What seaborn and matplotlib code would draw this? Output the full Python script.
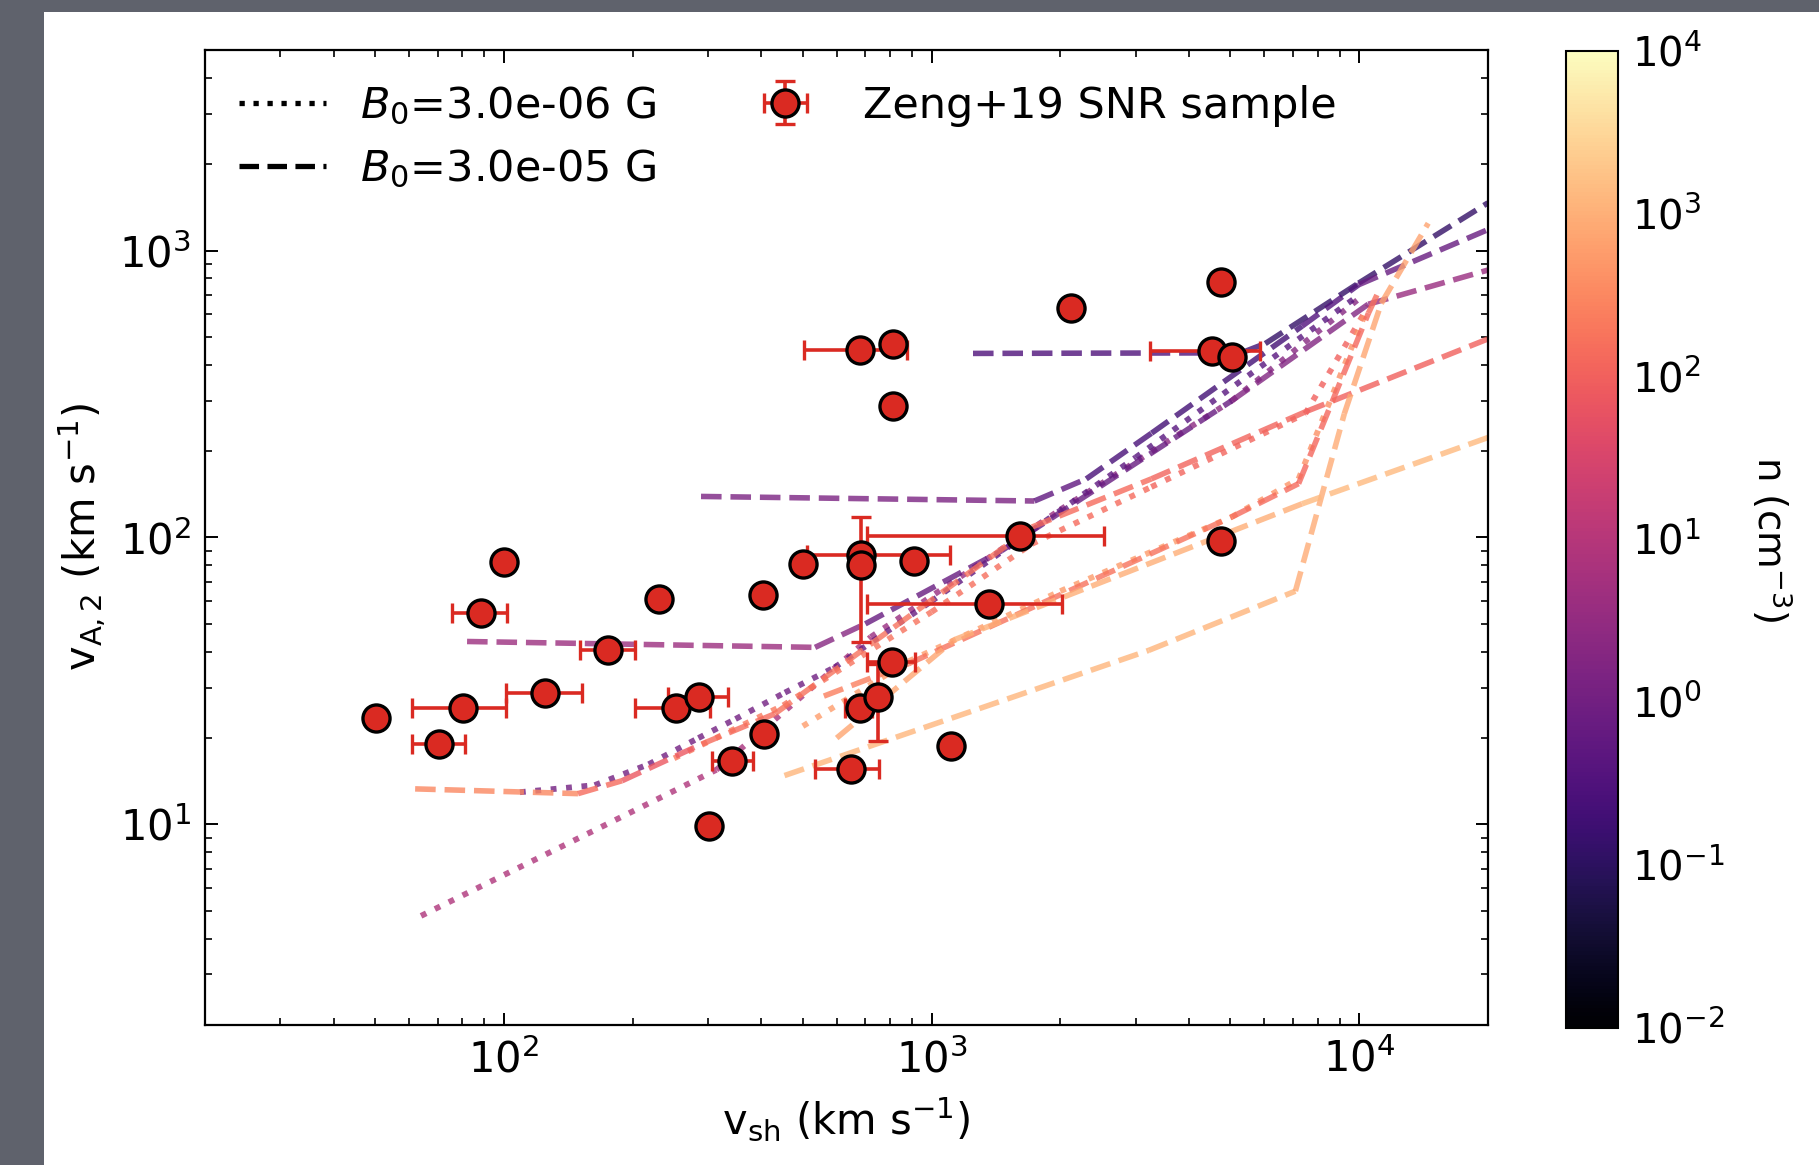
import numpy as np
import pandas as pd
import matplotlib
matplotlib.use("Agg")
import matplotlib.pyplot as plt
import seaborn as sns
from matplotlib.colors import LogNorm
from matplotlib.lines import Line2D
from matplotlib.patches import Rectangle

# ---------------- data ----------------
# Zeng+19 SNR sample
snr_vsh = [50.3, 70.5, 80.3, 88.3, 100, 125, 175, 231, 252, 286, 302, 342, 403, 405,
           501, 648, 681, 811, 811, 685, 685, 908, 681, 748, 809, 1111, 1613, 1366,
           2121, 4748, 4520, 5040, 4742]
snr_va = [23.4, 19.0, 25.4, 54.6, 82.2, 28.7, 40.5, 61, 25.4, 27.9, 9.9, 16.7, 62.8, 20.7,
          80.7, 15.6, 449, 474, 287, 87, 80, 83, 25.4, 27.9, 36.7, 18.8, 101, 58.4,
          629, 779, 447, 426, 97.2]
snr_vsh_lo = [0, 9.7, 19.5, 12.8, 0, 23.6, 24, 0, 49, 44, 0, 36, 0, 0,
              0, 114, 177, 0, 0, 174, 0, 0, 53, 0, 102, 0, 906, 659,
              0, 0, 1284, 0, 0]
snr_vsh_hi = [0, 10.5, 21, 13.6, 0, 27, 27.6, 0, 51, 49, 0, 41, 0, 0,
              0, 104, 193, 0, 0, 417, 0, 0, 43, 0, 104, 0, 916, 654,
              0, 0, 1346, 0, 0]
snr_va_lo = [0, 0, 0, 0, 0, 0, 0, 0, 0, 0, 0, 0, 0, 0,
             0, 0, 0, 0, 0, 0, 36.8, 0, 0, 8.3, 0, 0, 0, 0,
             0, 0, 0, 0, 0]
snr_va_hi = [0, 0, 0, 0, 0, 0, 0, 0, 0, 0, 0, 0, 0, 0,
             0, 0, 0, 0, 0, 0, 38, 0, 0, 8.3, 0, 0, 0, 0,
             0, 0, 0, 0, 0]

# Model curves, B0 = 3.0e-05 G (dashed): v_sh, v_A2 and density n along the curve
d1_vsh = [1250, 5300, 6030, 9970, 20000]
d1_va = [438, 440, 474, 770, 1466]
d1_n = [0.3, 0.3, 0.12, 0.12, 0.12]

d2_vsh = [289, 1740, 2300, 3270, 7350, 9970, 20000]
d2_va = [139, 134, 160, 231, 545, 760, 1183]
d2_n = [2, 1, 0.3, 0.2, 0.2, 0.5, 1]

d3_vsh = [82, 534, 700, 1459, 5040, 10500, 20000]
d3_va = [43.4, 41.4, 50, 90, 300, 650, 855]
d3_n = [4, 4, 1, 0.5, 1, 3, 5]

d4_vsh = [62, 149, 189, 290, 430, 1717, 3265, 7480, 20000]
d4_va = [13.3, 12.8, 14.2, 19.05, 24.3, 108.7, 160, 274, 492]
d4_n = [300, 300, 60, 100, 200, 150, 120, 100, 100]

d5_vsh = [560, 883, 5040, 7215, 10510, 11000]
d5_va = [28, 36.3, 118, 154, 605, 700]
d5_n = [300, 200, 150, 120, 120, 200]

d6_vsh = [453, 3218, 7092, 9230, 11260, 14500]
d6_va = [14.8, 40.4, 65, 270, 654, 1245]
d6_n = [1200, 1200, 1000, 800, 700, 700]

d7_vsh = [600, 1130, 7350, 20000]
d7_va = [20, 44, 131, 223]
d7_n = [700, 800, 1200, 1500]

# Model curves, B0 = 3.0e-06 G (dotted)
p1_vsh = [64, 169, 314, 721, 2000, 5040, 10000]
p1_va = [4.8, 9.8, 15.5, 45, 125, 300, 680]
p1_n = [8, 8, 8, 5, 3, 2, 2]

p2_vsh = [109, 163, 218, 285, 348, 454, 594, 1000, 3000, 10000]
p2_va = [12.95, 13.7, 16.2, 20, 23.3, 28.8, 35.3, 60, 190, 700]
p2_n = [1, 1, 1, 1, 1, 1, 0.8, 0.6, 0.4, 0.4]

p3_vsh = [250, 450, 1000, 1717, 3265, 7480, 10500]
p3_va = [17, 26, 55, 95, 150, 270, 640]
p3_n = [200, 200, 150, 150, 120, 100, 100]

p4_vsh = [500, 883, 2000, 5040, 7215, 10500]
p4_va = [22, 37, 65, 118, 160, 640]
p4_n = [600, 600, 600, 500, 400, 400]

dashed_curves = [(d1_vsh, d1_va, d1_n), (d2_vsh, d2_va, d2_n), (d3_vsh, d3_va, d3_n),
                 (d4_vsh, d4_va, d4_n), (d5_vsh, d5_va, d5_n), (d6_vsh, d6_va, d6_n),
                 (d7_vsh, d7_va, d7_n)]
dotted_curves = [(p1_vsh, p1_va, p1_n), (p2_vsh, p2_va, p2_n), (p3_vsh, p3_va, p3_n),
                 (p4_vsh, p4_va, p4_n)]

legend_labels = [r"$B_0$=3.0e-06 G", r"$B_0$=3.0e-05 G", "Zeng+19 SNR sample"]

# ---------------- style ----------------
sns.set_theme(style="ticks")
plt.rcParams.update({
    "font.family": ["DejaVu Sans"],
    "mathtext.fontset": "dejavusans",
    "axes.linewidth": 1.6,
    "axes.edgecolor": "black",
    "xtick.direction": "in", "ytick.direction": "in",
    "xtick.top": True, "ytick.right": True,
    "xtick.major.size": 9, "ytick.major.size": 9,
    "xtick.minor.size": 5, "ytick.minor.size": 5,
    "xtick.major.width": 1.4, "ytick.major.width": 1.4,
    "xtick.minor.width": 1.2, "ytick.minor.width": 1.2,
    "xtick.color": "black", "ytick.color": "black",
    "text.color": "black", "axes.labelcolor": "black",
})

fig = plt.figure(figsize=(18.19, 11.65), dpi=100, facecolor="#5f626c")
fig.patches.append(Rectangle((44 / 1819, 0), 1, 1 - 12 / 1165, transform=fig.transFigure,
                             facecolor="white", edgecolor="none", zorder=-10))
ax = fig.add_axes([0.1127, 0.1202, 0.7053, 0.8369])
cax = fig.add_axes([0.8609, 0.118, 0.0286, 0.8386])

ax.set_xscale("log")
ax.set_yscale("log")
ax.set_facecolor("white")

norm = LogNorm(1e-2, 1e4)
cmap = plt.get_cmap("magma")


def draw_curve(xs, ys, ns, ls, lw):
    for i in range(len(xs) - 1):
        seg = pd.DataFrame({"vsh": xs[i:i + 2], "va": ys[i:i + 2]})
        c = cmap(norm(np.sqrt(ns[i] * ns[i + 1])))
        sns.lineplot(data=seg, x="vsh", y="va", color=c, linestyle=ls, linewidth=lw,
                     alpha=0.8, ax=ax, estimator=None, sort=False, legend=False, zorder=2)


for xs, ys, ns in dotted_curves:
    draw_curve(xs, ys, ns, ":", 4.2)
for xs, ys, ns in dashed_curves:
    draw_curve(xs, ys, ns, "--", 4.0)

red = "#da2a22"
eb = ax.errorbar(snr_vsh, snr_va, xerr=[snr_vsh_lo, snr_vsh_hi], yerr=[snr_va_lo, snr_va_hi],
                 fmt="o", ms=19.5, mfc=red, mec="black", mew=2.4, ecolor=red,
                 elinewidth=2.6, capsize=7, capthick=2.6, zorder=5)

ax.set_xlim(20, 2e4)
ax.set_ylim(2, 5000)
ax.set_xlabel(r"v$_{\rm sh}$ (km s$^{-1}$)", fontsize=30, labelpad=10)
ax.set_ylabel(r"v$_{\rm A,2}$ (km s$^{-1}$)", fontsize=30, labelpad=8)
ax.tick_params(axis="both", which="major", labelsize=30)
ax.tick_params(axis="x", which="both", pad=10)
ax.tick_params(axis="y", which="both", pad=10)

h1 = Line2D([], [], color="black", ls=":", lw=3.8)
h2 = Line2D([], [], color="black", ls="--", lw=3.8)
ax.legend([h1, h2, eb], legend_labels, ncol=2, loc="upper left", frameon=False,
          fontsize=31, columnspacing=2.0, handlelength=2.0, borderaxespad=0.4)

sm = plt.cm.ScalarMappable(norm=norm, cmap=cmap)
sm.set_array([])
cb = fig.colorbar(sm, cax=cax)
cb.minorticks_on()
cb.outline.set_linewidth(1.5)
cax.tick_params(which="both", direction="in", labelsize=29, pad=10)
cax.tick_params(which="major", length=9, width=1.4)
cax.tick_params(which="minor", length=5, width=1.2)
cb.set_label(r"n (cm$^{-3}$)", rotation=270, fontsize=28, labelpad=50)

fig.savefig("out.png", dpi=100, facecolor=fig.get_facecolor())
